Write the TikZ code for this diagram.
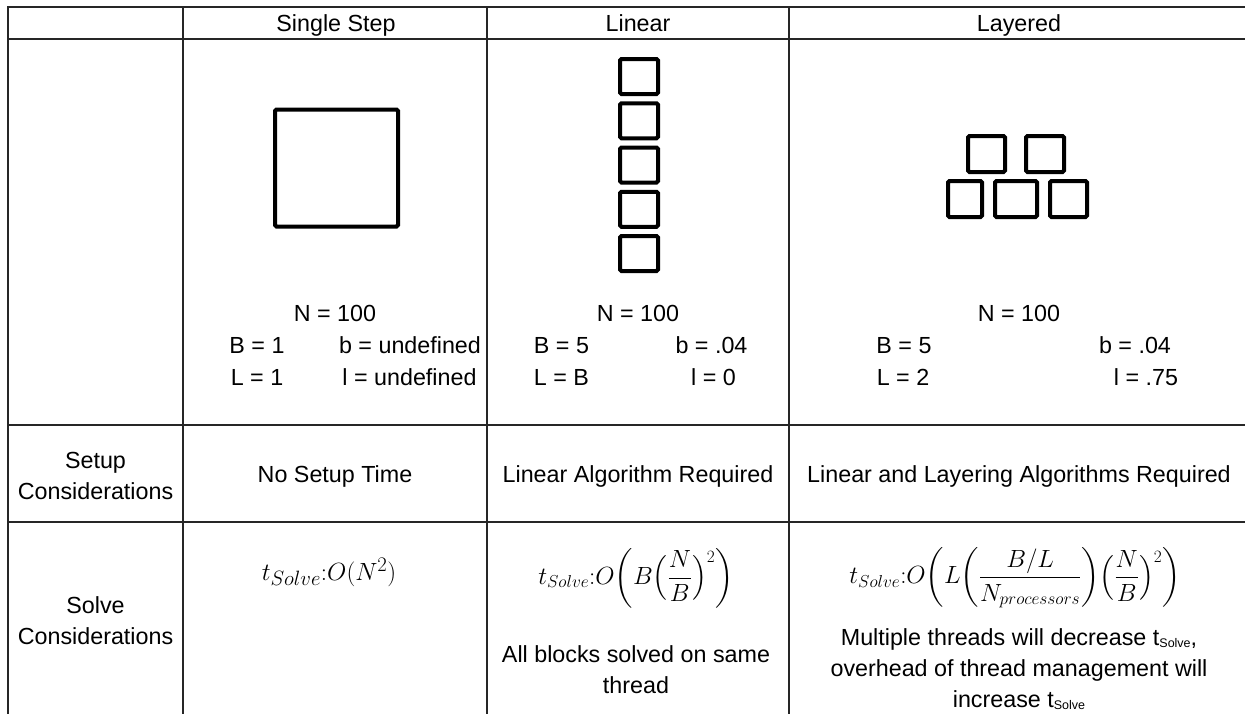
\documentclass[tikz,border=0pt]{standalone}
\usepackage{amsmath}
\usepackage{fontspec}
\setmainfont{Liberation Sans}
\newcommand{\tsolve}{t\raisebox{-1.5pt}{\fontsize{12.5}{12.5}\selectfont Solve}}
\tikzset{
  txt/.style={font=\fontsize{23.3}{31}\selectfont, inner sep=0pt, align=center, text=black},
  one/.style={txt, text height=16.8pt, text depth=0pt},
  mth/.style={font=\fontsize{26}{30}\selectfont, inner sep=0pt},
  grid/.style={line width=1.4pt, draw=black!85},
  blk/.style={draw=black, line width=4pt, rounded corners=1.5pt, inner sep=0pt, fill=none},
}
\begin{document}
\begin{tikzpicture}[x=1pt,y=-1pt]
\useasboundingbox (0,0) rectangle (1245,713);
\clip (0,0) rectangle (1245,713);
% table grid
\draw[grid] (8,730) -- (8,7) -- (1260,7);
\draw[grid] (8,39) -- (1260,39);
\draw[grid] (8,425) -- (1260,425);
\draw[grid] (8,522) -- (1260,522);
\draw[grid] (183,7) -- (183,730);
\draw[grid] (487,7) -- (487,730);
\draw[grid] (789,7) -- (789,730);
% headers
\node[one] (h1) at (336,23) {Single Step};
\node[one] (h2) at (638,23) {Linear};
\node[one] (h3) at (1019,23) {Layered};
% single step
\node[blk, minimum width=123pt, minimum height=117pt] (sq) at (336.5,168) {};
% linear blocks
\foreach \i in {0,...,4}{
  \node[blk, minimum width=38pt, minimum height=35pt] (lin\i) at (639,{76.5+44.25*\i}) {};
}
% layered blocks
\node[blk, minimum width=37pt, minimum height=36pt] (la1) at (986.5,154) {};
\node[blk, minimum width=38pt, minimum height=36pt] (la2) at (1045,154) {};
\node[blk, minimum width=34pt, minimum height=36pt] (lb1) at (965,199) {};
\node[blk, minimum width=42pt, minimum height=36pt] (lb2) at (1016,199) {};
\node[blk, minimum width=37pt, minimum height=36pt] (lb3) at (1068.5,199) {};
% parameters
\node[one] (n1) at (335,313) {N = 100};
\node[one] (b1) at (257,345) {B = 1};
\node[one] (bb1) at (410,345) {b = undefined};
\node[one] (l1) at (257,377) {L = 1};
\node[one] (ll1) at (409.5,377) {l = undefined};
\node[one] (n2) at (638,313) {N = 100};
\node[one] (b2) at (561.5,345) {B = 5};
\node[one] (bb2) at (711.5,345) {b = .04};
\node[one] (l2) at (561.5,377) {L = B};
\node[one] (ll2) at (713.5,377) {l = 0};
\node[one] (n3) at (1019,313) {N = 100};
\node[one] (b3) at (904,345) {B = 5};
\node[one] (bb3) at (1135,345) {b = .04};
\node[one] (l3) at (903,377) {L = 2};
\node[one] (ll3) at (1146,377) {l = .75};
% setup row
\node[txt] (setup) at (95.5,476) {Setup\\Considerations};
\node[one] (s1) at (335,474) {No Setup Time};
\node[one] (s2) at (638,474) {Linear Algorithm Required};
\node[one] (s3) at (1019,474) {Linear and Layering Algorithms Required};
% solve row
\node[txt] (solve) at (95.5,621) {Solve\\Considerations};
\node[mth, font=\fontsize{28}{32}\selectfont] (f1) at (329,572) {$t_{Solve}{:}O(N^2)$};
\node[mth] (f2) at (636,578) {$t_{Solve}{:}O\biggl(B\Bigl(\dfrac{N}{B}\Bigr)^{2}\biggr)$};
\node[mth] (f3) at (1015,578) {$t_{Solve}{:}O\biggl(L\biggl(\dfrac{B/L}{N_{processors}}\biggr)\Bigl(\dfrac{N}{B}\Bigr)^{2}\biggr)$};
\node[txt] (t2) at (636,670) {All blocks solved on same\\thread};
\node[txt] (t3) at (1019,669) {Multiple threads will decrease \tsolve,\\overhead of thread management will\\increase \tsolve};
\end{tikzpicture}
\end{document}
